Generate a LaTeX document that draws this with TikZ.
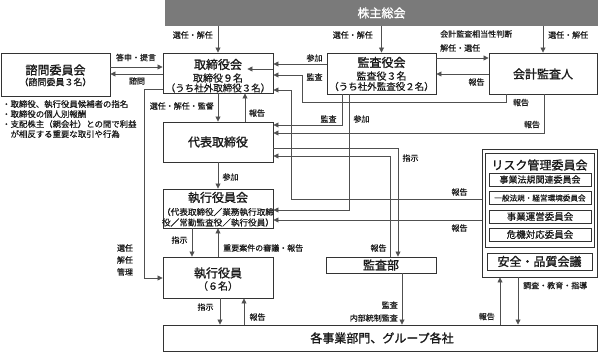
\documentclass[tikz,border=0pt]{standalone}
\usepackage{fontspec}
\setmainfont{Noto Sans CJK JP}[FakeBold=0.6]
\newfontfamily\ttlfont{Noto Sans CJK JP}[FakeBold=1.3]
\usetikzlibrary{arrows.meta}
\definecolor{bc}{HTML}{333333}
\definecolor{lc}{HTML}{505050}
\definecolor{tc}{HTML}{1A1A1A}
\definecolor{gb}{HTML}{7A7A7A}
\begin{document}
\begin{tikzpicture}[x=1pt,y=-1pt,
  box/.style={draw=bc, line width=0.9pt, fill=white, inner sep=0pt},
  ttl/.style={font=\ttlfont\fontsize{12}{12}\selectfont, inner sep=0pt, text=tc},
  sub/.style={font=\fontsize{9.5}{9.5}\selectfont, inner sep=0pt, text=tc},
  lbl/.style={font=\fontsize{8}{8}\selectfont, inner sep=0pt, text=tc},
  ln/.style={draw=lc, line width=0.8pt},
  arr/.style={ln, -{Triangle[length=5pt,width=5pt]}}]
\useasboundingbox (0,0) rectangle (599,352);
% boxes
\node[fill=gb, inner sep=0pt, minimum width=433pt, minimum height=26pt] (kabunushi) at (381.5,13) {};
\node[ttl, text=white] (tkab) at (381.5,13) {株主総会};
\node[box, minimum width=110pt, minimum height=40pt] (torishimari) at (218,73) {};
\node[ttl] (t1a) at (218,64.5) {取締役会};
\node[sub, font=\fontsize{10}{10}\selectfont] (t1b) at (218,78) {取締役９名};
\node[sub] (t1c) at (218,88) {（うち社外取締役３名）};
\node[box, minimum width=109pt, minimum height=43pt] (shimon) at (55.5,74.5) {};
\node[ttl] (t2a) at (55.5,70) {諮問委員会};
\node[sub, font=\fontsize{9}{9}\selectfont] (t2b) at (55.5,82) {（諮問委員３名）};
\node[box, minimum width=109pt, minimum height=41pt] (kansayaku) at (381.5,73.5) {};
\node[ttl] (t3a) at (381.5,62.5) {監査役会};
\node[sub, font=\fontsize{10}{10}\selectfont] (t3b) at (381.5,76) {監査役３名};
\node[sub] (t3c) at (381.5,86.5) {（うち社外監査役２名）};
\node[box, minimum width=108pt, minimum height=41pt] (kaikei) at (543,73.5) {};
\node[ttl] (t4) at (543,74) {会計監査人};
\node[box, minimum width=110pt, minimum height=40pt] (daihyo) at (218,142) {};
\node[ttl] (t5) at (218,142) {代表取締役};
\node[box, minimum width=110pt, minimum height=39pt] (shikkokai) at (218,208.5) {};
\node[ttl] (t6a) at (218,197.5) {執行役員会};
\node[sub, font=\fontsize{8.6}{8.6}\selectfont] (t6b) at (218,212) {（代表取締役／業務執行取締};
\node[sub, font=\fontsize{8.6}{8.6}\selectfont] (t6c) at (218,222.5) {役／常勤監査役／執行役員）};
\node[box, minimum width=110pt, minimum height=41pt] (shikko) at (218,277.5) {};
\node[ttl] (t7a) at (218,273) {執行役員};
\node[sub, font=\fontsize{10}{10}\selectfont] (t7b) at (218,286) {（６名）};
\node[box, minimum width=434pt, minimum height=26pt] (jigyou) at (380,338) {};
\node[ttl] (t8) at (382,338) {各事業部門、グループ各社};
\node[box, minimum width=110pt, minimum height=16pt] (kansabu) at (381,265) {};
\node[ttl] (t9) at (381,265) {監査部};
\node[box, minimum width=115pt, minimum height=128pt] (risk) at (539.5,213) {};
\node[box, minimum width=109pt, minimum height=94pt] (riskin) at (539.5,200) {};
\node[ttl] (t10) at (539.5,165) {リスク管理委員会};
\node[box, minimum width=102pt, minimum height=13pt] (r1) at (540,179.5) {};
\node[sub, font=\fontsize{9}{9}\selectfont] (tr1) at (540,179.5) {事業法規関連委員会};
\node[box, minimum width=102pt, minimum height=13pt] (r2) at (540,198) {};
\node[sub, font=\fontsize{7.6}{7.6}\selectfont] (tr2) at (540,198) {一般法規・経営環境委員会};
\node[box, minimum width=102pt, minimum height=13pt] (r3) at (540,216.5) {};
\node[sub] (tr3) at (540,216.5) {事業運営委員会};
\node[box, minimum width=102pt, minimum height=13pt] (r4) at (540,234.5) {};
\node[sub] (tr4) at (540,234.5) {危機対応委員会};
\node[box, minimum width=105pt, minimum height=17pt] (anzen) at (539.5,261.5) {};
\node[ttl] (t11) at (539.5,261.5) {安全・品質会議};
% bullet list
\node[lbl, font=\fontsize{8.4}{10}\selectfont, anchor=north west, align=left] (bul) at (2,100)
  {・取締役、執行役員候補者の指名\\・取締役の個人別報酬\\・支配株主（親会社）との間で利益\\　が相反する重要な取引や行為};
% connectors
\draw[arr] (torishimari.north |- kabunushi.south) -- (torishimari.north);
\draw[arr] (kansayaku.north |- kabunushi.south) -- (kansayaku.north);
\draw[arr] (kaikei.north |- kabunushi.south) -- (kaikei.north);
\draw[arr] (shimon.east |- 0,67) -- (torishimari.west |- 0,67);
\draw[arr] (torishimari.west |- 0,74) -- (shimon.east |- 0,74);
\draw[arr] (kansayaku.west |- 0,64) -- (torishimari.east |- 0,64);
\draw[arr] (torishimari.east |- 0,69) -- ++(-26,0);
\draw[arr] (kaikei.south -| 506,0) |- (302,102) |- (torishimari.east |- 0,75);
\draw[arr] (risk.west |- 0,199) -| (291,90) -- (torishimari.east |- 0,90);
\draw[arr] (kansayaku.east |- 0,58) -- (kaikei.west |- 0,58);
\draw[arr] (kaikei.west |- 0,74) -- (kansayaku.east |- 0,74);
\draw[arr] (torishimari.south) -- (daihyo.north);
\draw[arr] (daihyo.north -| 245,0) -- (torishimari.south -| 245,0);
\draw[arr] (kansayaku.south -| 342,0) |- (daihyo.east |- 0,125);
\draw[arr] (kansayaku.south -| 349,0) |- (shikkokai.east |- 0,210);
\draw[arr] (kaikei.south -| 544,0) |- (daihyo.east |- 0,133);
\draw[arr] (daihyo.east |- 0,148) -| (kansabu.north -| 398,0);
\draw[arr] (kansabu.north -| 390,0) |- (daihyo.east |- 0,156);
\draw[arr] (risk.west |- 0,220) -- (shikkokai.east |- 0,220);
\draw[arr] (daihyo.south) -- (shikkokai.north);
\draw[arr] (shikkokai.south -| 192,0) -- (shikko.north -| 192,0);
\draw[arr] (shikko.north) -- (shikkokai.south);
\draw[arr] (torishimari.west |- 0,89) -| (144,278) -- (shikko.west |- 0,278);
\draw[arr] (shikko.south -| 220,0) -- (jigyou.north -| 220,0);
\draw[arr] (jigyou.north -| 244,0) -- (shikko.south -| 244,0);
\draw[arr] (kansabu.south -| 402,0) -- (jigyou.north -| 402,0);
\draw[arr] (jigyou.north -| 500,0) -- (risk.south -| 500,0);
\draw[arr] (risk.south -| 518,0) -- (jigyou.north -| 518,0);
% labels
\node[lbl, anchor=east] (l1) at (213,35) {選任・解任};
\node[lbl, anchor=east] (l2) at (373,35) {選任・解任};
\node[lbl, anchor=west] (l3) at (548,35) {選任・解任};
\node[lbl, anchor=west] (l4) at (440,34) {会計監査相当性判断};
\node[lbl, anchor=west] (l5) at (440,48) {解任・選任};
\node[lbl] (l6) at (136,57.5) {答申・提言};
\node[lbl] (l7) at (137,81) {諮問};
\node[lbl] (l8) at (314.5,58) {参加};
\node[lbl] (l9) at (314.5,77) {監査};
\node[lbl] (l10) at (476.5,82) {報告};
\node[lbl] (l11) at (521,102.5) {報告};
\node[lbl] (l12) at (532,124.5) {報告};
\node[lbl, anchor=east] (l13) at (214,106) {選任・解任・監督};
\node[lbl] (l14) at (257,113) {報告};
\node[lbl] (l15) at (328.5,119) {監査};
\node[lbl] (l16) at (361.5,119) {参加};
\node[lbl] (l17) at (410.5,158) {指示};
\node[lbl] (l18) at (459.5,192) {報告};
\node[lbl] (l19) at (459.5,228) {報告};
\node[lbl] (l20) at (378.5,248) {報告};
\node[lbl] (l21) at (230.5,177) {参加};
\node[lbl] (l22) at (179.5,240) {指示};
\node[lbl, anchor=west] (l23) at (223,248) {重要案件の審議・報告};
\node[lbl, align=center, font=\fontsize{8}{12}\selectfont] (l24) at (125,260) {選任\\解任\\管理};
\node[lbl] (l25) at (205.5,307) {指示};
\node[lbl] (l26) at (257.5,317) {報告};
\node[lbl, anchor=east] (l27) at (398,305) {監査};
\node[lbl, anchor=east] (l28) at (398,318) {内部統制監査};
\node[lbl, anchor=east] (l29) at (495,316.5) {報告};
\node[lbl, anchor=west] (l30) at (523,285.5) {調査・教育・指導};
\end{tikzpicture}
\end{document}
